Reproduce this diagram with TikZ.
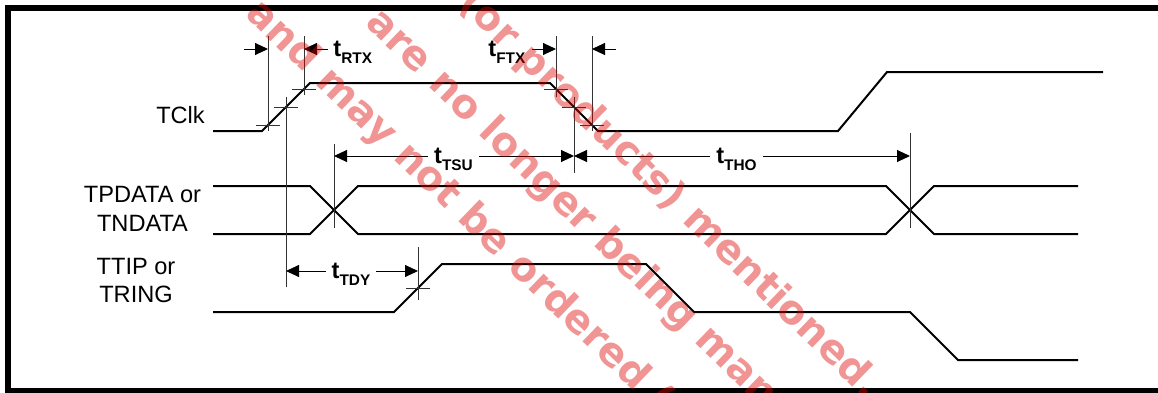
\documentclass[tikz,border=0pt]{standalone}
\usepackage{fontspec}
\setmainfont{Liberation Sans}
\newfontfamily\markfont{DejaVu Sans}
\usetikzlibrary{arrows.meta}

\definecolor{wmred}{RGB}{220,0,0}
\newcommand{\tlabel}[1]{\textbf{t}\raisebox{-3.5pt}{\fontsize{7.7}{8}\selectfont\bfseries #1}}

\begin{document}
\begin{tikzpicture}[x = 0.5pt, y = -0.5pt,
    wave/.style = {line width = 1pt},
    guide/.style = {line width = 0.5pt, black!80},
    dim/.style = {line width = 0.5pt, -{Triangle[length = 6.5pt, width = 6pt]}},
    dimboth/.style = {line width = 0.5pt, {Triangle[length = 6.5pt, width = 6pt]}-{Triangle[length = 6.5pt, width = 6pt]}},
    sig/.style = {font = \fontsize{11.8}{14.3}\selectfont, align = center, inner sep = 0pt},
    tname/.style = {font = \fontsize{11.8}{14.3}\selectfont, inner xsep = 3pt, inner ysep = 0pt, anchor = base},
    wmark/.style = {font = \markfont\bfseries\fontsize{20}{24}\selectfont, text = wmred, text opacity = 0.42, rotate = -44, anchor = base west, inner sep = 0pt}]
    \useasboundingbox (0,0) rectangle (1158,392);
    \clip (0,0) rectangle (1158,392);
    \draw [line width = 3pt] (8,8) rectangle (1180,391);

    \begin{scope}[wave]
        \draw (213,131) -- (262,131) -- (310,83) -- (550,83) -- (598,131) -- (838,131) -- (887,72) -- (1103,72);
        \draw (213,186) -- (310,186) -- (358,234) -- (886,234) -- (934,186) -- (1078,186);
        \draw (213,234) -- (310,234) -- (358,186) -- (886,186) -- (934,234) -- (1078,234);
        \draw (213,312) -- (394,312) -- (442,264) -- (646,264) -- (694,312) -- (910,312) -- (958,360) -- (1078,360);
    \end{scope}

    \begin{scope}[guide]
        \foreach \x/\y in {268/125, 286/107, 304/89, 556/89, 574/107, 592/125, 418/288}
            \draw (\x-12,\y) -- (\x+12,\y);
        \draw (268,36) -- (268,131);
        \draw (286,97) -- (286,287);
        \draw (304,36) -- (304,95);
        \draw (556,36) -- (556,97);
        \draw (574,97) -- (574,173);
        \draw (592,36) -- (592,131);
        \draw (334,144) -- (334,228);
        \draw (910,133) -- (910,228);
        \draw (418,247) -- (418,300);
    \end{scope}

    \begin{scope}
        \draw [dim] (244,49) -- (268,49);
        \draw [dim] (328,49) -- (304,49);
        \draw [dim] (532,49) -- (556,49);
        \draw [dim] (616,49) -- (592,49);
        \draw [dimboth] (334,156) -- (574,156);
        \draw [dimboth] (574,156) -- (910,156);
        \draw [dimboth] (286,271) -- (418,271);
    \end{scope}

    \begin{scope}
        \node [tname, inner xsep = 0pt, anchor = base west] (trtx) at (333,56) {\tlabel{RTX}};
        \node [tname, inner xsep = 0pt, anchor = base west] (tftx) at (488,56) {\tlabel{FTX}};
        \node [tname, fill = white] (ttsu) at (453.5,163) {\tlabel{TSU}};
        \node [tname, fill = white] (ttho) at (736.5,163) {\tlabel{THO}};
        \node [tname, fill = white] (ttdy) at (351,278) {\tlabel{TDY}};
    \end{scope}

    \begin{scope}
        \node [sig, anchor = base] (tclk) at (180.5,123) {TClk};
        \node [sig] (tpdata) at (142.5,209) {TPDATA or\\TNDATA};
        \node [sig] (ttip) at (136,280.5) {TTIP or\\TRING};
    \end{scope}

    \begin{scope}[every node/.style = {wmark}]
        \node (wma) at (457,5) {(or products) mentioned.};
        \node (wmb) at (364,24) {are no longer being manufactured};
        \node (wmc) at (244,15) {and may not be ordered (};
    \end{scope}
\end{tikzpicture}
\end{document}
